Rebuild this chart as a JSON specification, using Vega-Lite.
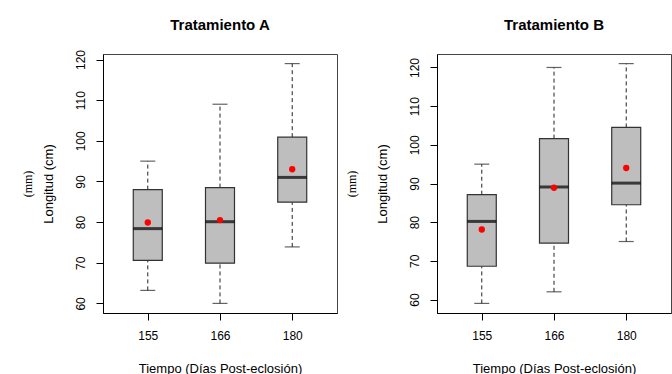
{
  "$schema": "https://vega.github.io/schema/vega-lite/v6.json",
  "padding": {"left": 20, "top": 17, "right": 0, "bottom": 0},
  "spacing": 100,
  "bounds": "flush",
  "background": "white",
  "data": {"values": [
    {"trat": "A", "dia": "155", "lo": 63.2, "q1": 70.6, "med": 78.4, "q3": 88, "hi": 95, "mean": 79.9},
    {"trat": "A", "dia": "166", "lo": 60, "q1": 69.9, "med": 80.1, "q3": 88.5, "hi": 109, "mean": 80.5},
    {"trat": "A", "dia": "180", "lo": 73.9, "q1": 84.9, "med": 91, "q3": 100.9, "hi": 119, "mean": 93},
    {"trat": "B", "dia": "155", "lo": 59, "q1": 68.6, "med": 80.2, "q3": 87.1, "hi": 95, "mean": 78.1},
    {"trat": "B", "dia": "166", "lo": 62, "q1": 74.6, "med": 89.1, "q3": 101.6, "hi": 120, "mean": 88.9},
    {"trat": "B", "dia": "180", "lo": 75, "q1": 84.5, "med": 90.1, "q3": 104.5, "hi": 121, "mean": 94}
  ]},
  "config": {
    "view": {"stroke": "#444", "strokeWidth": 1},
    "font": "Liberation Sans",
    "title": {"font": "Liberation Sans", "fontSize": 15, "fontWeight": "bold", "color": "black", "anchor": "middle", "frame": "group"},
    "axis": {"labelFont": "Liberation Sans", "titleFont": "Liberation Sans", "labelColor": "black", "titleColor": "black", "tickColor": "black", "domainColor": "black", "grid": false, "titleFontWeight": "normal", "labelFontSize": 12, "titleFontSize": 13},
    "axisY": {"labelAngle": 270, "labelAlign": "center", "labelBaseline": "bottom", "values": [60, 70, 80, 90, 100, 110, 120], "tickSize": 7, "labelPadding": 9, "titlePadding": 19},
    "axisX": {"labelAngle": 0, "tickSize": 7, "labelPadding": 10, "titlePadding": 21}
  },
  "hconcat": [
    {
      "title": {"text": "Tratamiento A", "offset": 17},
      "width": 234, "height": 259,
      "transform": [{"filter": "datum.trat === 'A'"}],
      "encoding": {
        "x": {"field": "dia", "type": "ordinal", "sort": ["155", "166", "180"], "scale": {"type": "point", "padding": 0.62}, "title": "Tiempo (Días Post-eclosión)"}
      },
      "layer": [
        {
          "layer": [
            {"mark": {"type": "rule", "strokeDash": [4, 3], "color": "#222", "strokeWidth": 1},
             "encoding": {"y": {"field": "lo", "type": "quantitative", "scale": {"domain": [57.64, 121.36], "nice": false, "zero": false}, "title": "Longitud (cm)"}, "y2": {"field": "q1"}}},
            {"mark": {"type": "rule", "strokeDash": [4, 3], "color": "#222", "strokeWidth": 1},
             "encoding": {"y": {"field": "q3", "type": "quantitative", "scale": {"domain": [57.64, 121.36], "nice": false, "zero": false}, "title": "Longitud (cm)"}, "y2": {"field": "hi"}}},
            {"mark": {"type": "tick", "color": "#222", "size": 15, "thickness": 1.2, "orient": "horizontal"},
             "encoding": {"y": {"field": "lo", "type": "quantitative", "scale": {"domain": [57.64, 121.36], "nice": false, "zero": false}, "title": "Longitud (cm)"}}},
            {"mark": {"type": "tick", "color": "#222", "size": 15, "thickness": 1.2, "orient": "horizontal"},
             "encoding": {"y": {"field": "hi", "type": "quantitative", "scale": {"domain": [57.64, 121.36], "nice": false, "zero": false}, "title": "Longitud (cm)"}}},
            {"mark": {"type": "bar", "width": 29, "fill": "#BEBEBE", "stroke": "#333", "strokeWidth": 1.2},
             "encoding": {"y": {"field": "q1", "type": "quantitative", "scale": {"domain": [57.64, 121.36], "nice": false, "zero": false}, "title": "Longitud (cm)"}, "y2": {"field": "q3"}}},
            {"mark": {"type": "tick", "color": "black", "size": 29, "thickness": 3, "orient": "horizontal"},
             "encoding": {"y": {"field": "med", "type": "quantitative", "scale": {"domain": [57.64, 121.36], "nice": false, "zero": false}, "title": "Longitud (cm)"}}},
            {"mark": {"type": "point", "filled": true, "color": "#FF0000", "size": 40, "opacity": 1},
             "encoding": {"y": {"field": "mean", "type": "quantitative", "scale": {"domain": [57.64, 121.36], "nice": false, "zero": false}, "title": "Longitud (cm)"}}}
          ]
        },
        {"mark": {"type": "point", "opacity": 0},
         "encoding": {"y": {"field": "mean", "type": "quantitative", "scale": {"domain": [57.64, 121.36], "nice": false, "zero": false},
           "axis": {"orient": "left", "title": "(mm)", "labels": false, "ticks": false, "domain": false, "titleFont": "Liberation Serif", "titleFontSize": 12, "titlePadding": 69}}}}
      ],
      "resolve": {"scale": {"y": "independent"}}
    },
    {
      "title": {"text": "Tratamiento B", "offset": 21.5},
      "width": 234, "height": 259,
      "transform": [{"filter": "datum.trat === 'B'"}],
      "encoding": {
        "x": {"field": "dia", "type": "ordinal", "sort": ["155", "166", "180"], "scale": {"type": "point", "padding": 0.62}, "title": "Tiempo (Días Post-eclosión)"}
      },
      "layer": [
        {
          "layer": [
            {"mark": {"type": "rule", "strokeDash": [4, 3], "color": "#222", "strokeWidth": 1},
             "encoding": {"y": {"field": "lo", "type": "quantitative", "scale": {"domain": [56.52, 123.48], "nice": false, "zero": false}, "title": "Longitud (cm)"}, "y2": {"field": "q1"}}},
            {"mark": {"type": "rule", "strokeDash": [4, 3], "color": "#222", "strokeWidth": 1},
             "encoding": {"y": {"field": "q3", "type": "quantitative", "scale": {"domain": [56.52, 123.48], "nice": false, "zero": false}, "title": "Longitud (cm)"}, "y2": {"field": "hi"}}},
            {"mark": {"type": "tick", "color": "#222", "size": 15, "thickness": 1.2, "orient": "horizontal"},
             "encoding": {"y": {"field": "lo", "type": "quantitative", "scale": {"domain": [56.52, 123.48], "nice": false, "zero": false}, "title": "Longitud (cm)"}}},
            {"mark": {"type": "tick", "color": "#222", "size": 15, "thickness": 1.2, "orient": "horizontal"},
             "encoding": {"y": {"field": "hi", "type": "quantitative", "scale": {"domain": [56.52, 123.48], "nice": false, "zero": false}, "title": "Longitud (cm)"}}},
            {"mark": {"type": "bar", "width": 29, "fill": "#BEBEBE", "stroke": "#333", "strokeWidth": 1.2},
             "encoding": {"y": {"field": "q1", "type": "quantitative", "scale": {"domain": [56.52, 123.48], "nice": false, "zero": false}, "title": "Longitud (cm)"}, "y2": {"field": "q3"}}},
            {"mark": {"type": "tick", "color": "black", "size": 29, "thickness": 3, "orient": "horizontal"},
             "encoding": {"y": {"field": "med", "type": "quantitative", "scale": {"domain": [56.52, 123.48], "nice": false, "zero": false}, "title": "Longitud (cm)"}}},
            {"mark": {"type": "point", "filled": true, "color": "#FF0000", "size": 40, "opacity": 1},
             "encoding": {"y": {"field": "mean", "type": "quantitative", "scale": {"domain": [56.52, 123.48], "nice": false, "zero": false}, "title": "Longitud (cm)"}}}
          ]
        },
        {"mark": {"type": "point", "opacity": 0},
         "encoding": {"y": {"field": "mean", "type": "quantitative", "scale": {"domain": [56.52, 123.48], "nice": false, "zero": false},
           "axis": {"orient": "left", "title": "(mm)", "labels": false, "ticks": false, "domain": false, "titleFont": "Liberation Serif", "titleFontSize": 12, "titlePadding": 79}}}}
      ],
      "resolve": {"scale": {"y": "independent"}}
    }
  ]
}
